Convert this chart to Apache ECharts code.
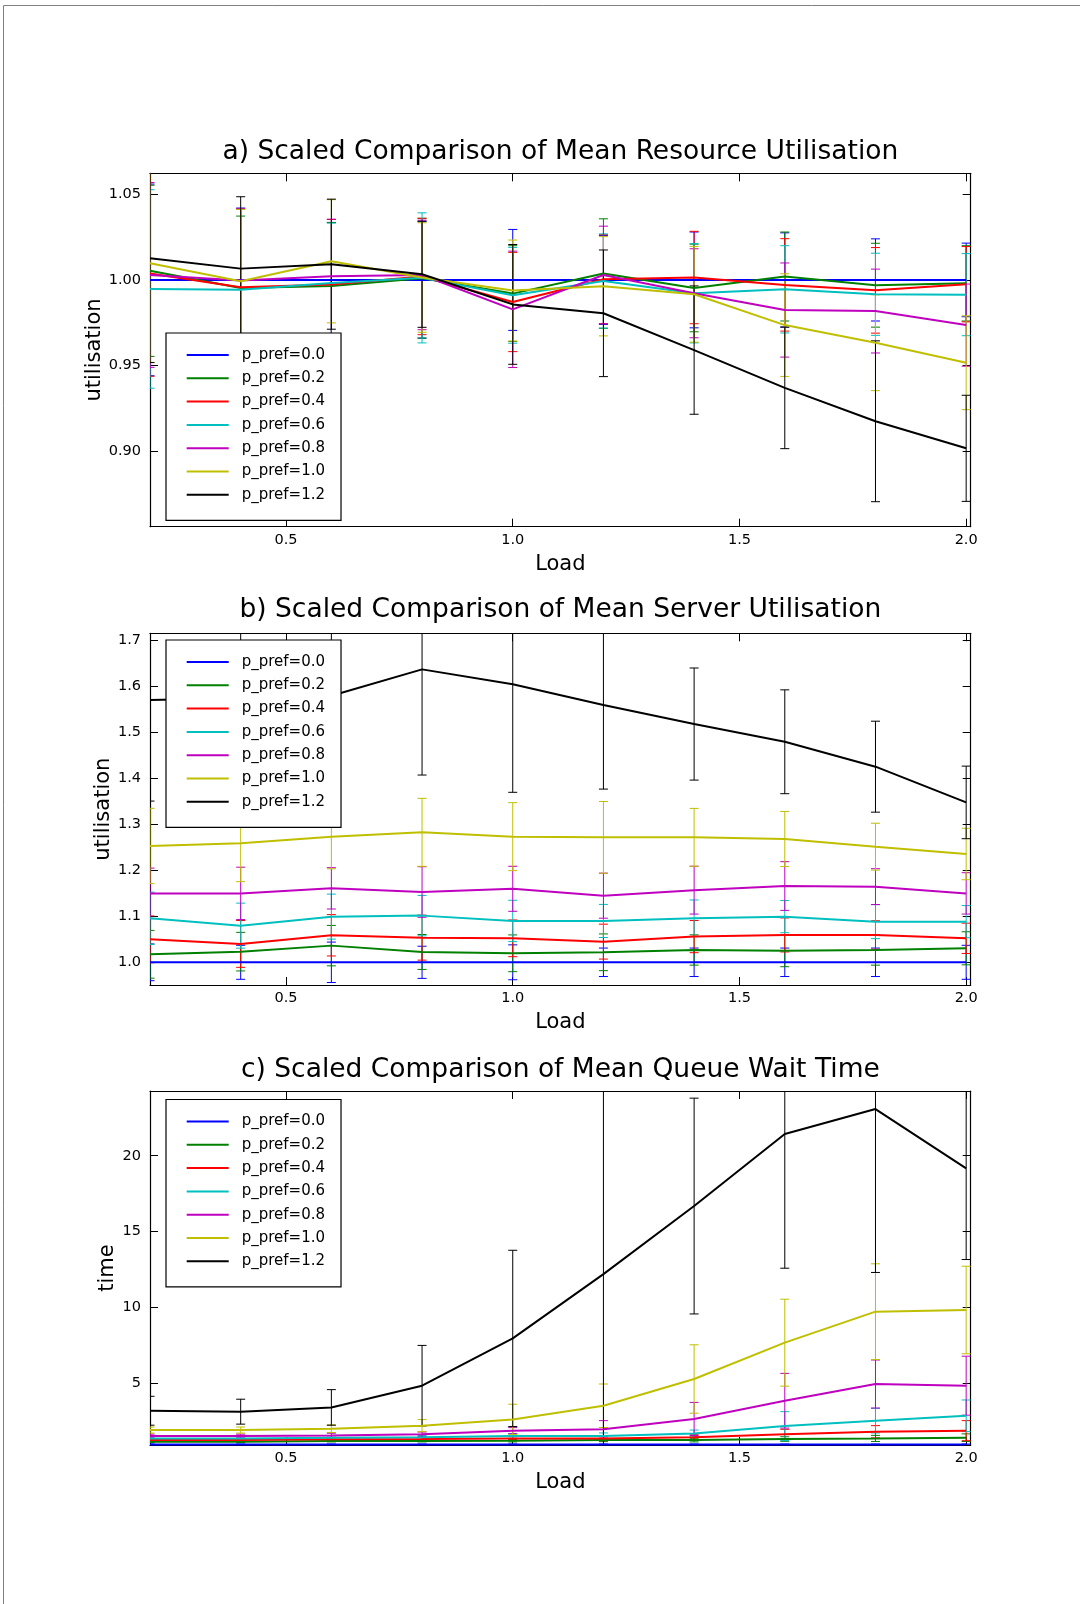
<!DOCTYPE html>
<html><head><meta charset="utf-8">
<script src="https://cdn.jsdelivr.net/npm/echarts@6/dist/echarts.min.js"></script>
<style>html,body{margin:0;padding:0;background:#fff}#c{width:1080px;height:1604px}</style>
</head><body><div id="c"></div>
<script>
// ---------------- DATA ----------------
const loads = [0.2, 0.4, 0.6, 0.8, 1.0, 1.2, 1.4, 1.6, 1.8, 2.0];
const seriesNames = ['p_pref=0.0','p_pref=0.2','p_pref=0.4','p_pref=0.6','p_pref=0.8','p_pref=1.0','p_pref=1.2'];
const loadTicks = [0.5, 1.0, 1.5, 2.0];

const resourceTitle = 'a) Scaled Comparison of Mean Resource Utilisation';
const resourceTicks = [0.90, 0.95, 1.00, 1.05];
const resourceMean = [
  [1, 1, 1, 1, 1, 1, 1, 1, 1, 1],
  [1.0053, 0.9953, 0.9965, 1.0010, 0.9920, 1.0037, 0.9953, 1.0020, 0.9969, 0.9980],
  [1.0037, 0.9957, 0.9973, 1.0020, 0.9871, 1.0004, 1.0014, 0.9971, 0.9939, 0.9975],
  [0.9947, 0.9943, 0.9982, 1.0012, 0.9910, 0.9994, 0.9922, 0.9945, 0.9916, 0.9914],
  [1.0029, 0.9996, 1.0021, 1.0029, 0.9828, 1.0029, 0.9922, 0.9824, 0.9818, 0.9736],
  [1.0098, 0.9992, 1.0109, 1.0014, 0.9938, 0.9963, 0.9916, 0.9736, 0.9633, 0.9516],
  [1.0127, 1.0066, 1.0092, 1.0033, 0.9857, 0.9805, 0.9590, 0.9369, 0.9174, 0.9016]
];
const resourceErr = [
  [0.056, 0.042, 0.0336, 0.034, 0.0295, 0.026, 0.028, 0.0275, 0.024, 0.0215],
  [0.050, 0.042, 0.037, 0.035, 0.028, 0.032, 0.0256, 0.026, 0.0245, 0.022],
  [0.060, 0.046, 0.038, 0.034, 0.029, 0.026, 0.027, 0.027, 0.025, 0.022],
  [0.058, 0.047, 0.035, 0.038, 0.028, 0.0275, 0.029, 0.0255, 0.024, 0.024],
  [0.054, 0.042, 0.0334, 0.032, 0.034, 0.0285, 0.026, 0.0275, 0.0245, 0.024],
  [0.058, 0.042, 0.036, 0.032, 0.0295, 0.029, 0.028, 0.030, 0.028, 0.0274],
  [0.061, 0.042, 0.038, 0.031, 0.035, 0.037, 0.0375, 0.0355, 0.047, 0.031]
];

const serverTitle = 'b) Scaled Comparison of Mean Server Utilisation';
const serverTicks = [1.0, 1.1, 1.2, 1.3, 1.4, 1.5, 1.6, 1.7];
const serverMean = [
  [1, 1, 1, 1, 1, 1, 1, 1, 1, 1],
  [1.0174, 1.0232, 1.0363, 1.0225, 1.0196, 1.0218, 1.0268, 1.0254, 1.0268, 1.0305],
  [1.0500, 1.0400, 1.0588, 1.0537, 1.0522, 1.0450, 1.0559, 1.0595, 1.0595, 1.0522],
  [1.0957, 1.0798, 1.0994, 1.1016, 1.0900, 1.0900, 1.0957, 1.0994, 1.0885, 1.0885],
  [1.1500, 1.1500, 1.1610, 1.1530, 1.1600, 1.1450, 1.1570, 1.1660, 1.1647, 1.1500],
  [1.2532, 1.2590, 1.2735, 1.2829, 1.2735, 1.2720, 1.2720, 1.2684, 1.2517, 1.2357],
  [1.5709, 1.5750, 1.5800, 1.6376, 1.6050, 1.5600, 1.5186, 1.4800, 1.4258, 1.3480]
];
const serverErr = [
  [0.040, 0.037, 0.044, 0.035, 0.038, 0.031, 0.031, 0.031, 0.031, 0.037],
  [0.052, 0.042, 0.044, 0.038, 0.040, 0.040, 0.033, 0.035, 0.033, 0.036],
  [0.051, 0.051, 0.045, 0.049, 0.040, 0.038, 0.035, 0.037, 0.031, 0.033],
  [0.057, 0.049, 0.049, 0.044, 0.045, 0.036, 0.040, 0.035, 0.037, 0.035],
  [0.055, 0.057, 0.045, 0.055, 0.049, 0.049, 0.052, 0.053, 0.039, 0.045],
  [0.082, 0.0835, 0.070, 0.074, 0.074, 0.078, 0.063, 0.060, 0.051, 0.056],
  [0.220, 0.200, 0.200, 0.230, 0.235, 0.183, 0.122, 0.113, 0.099, 0.079]
];

const waitTitle = 'c) Scaled Comparison of Mean Queue Wait Time';
const waitTicks = [5, 10, 15, 20];
const waitMean = [
  [1, 1, 1, 1, 1, 1, 1, 1, 1, 1],
  [1.18, 1.18, 1.23, 1.23, 1.25, 1.29, 1.29, 1.36, 1.40, 1.45],
  [1.29, 1.29, 1.34, 1.36, 1.40, 1.40, 1.47, 1.67, 1.84, 1.91],
  [1.40, 1.40, 1.45, 1.47, 1.56, 1.56, 1.73, 2.21, 2.57, 2.89],
  [1.56, 1.56, 1.60, 1.67, 1.91, 2.00, 2.68, 3.88, 4.98, 4.87],
  [1.95, 1.95, 2.04, 2.24, 2.65, 3.55, 5.31, 7.70, 9.74, 9.85],
  [3.22, 3.16, 3.44, 4.87, 7.98, 12.21, 16.69, 21.43, 23.07, 19.17]
];
const waitErr = [
  [0.03, 0.03, 0.03, 0.03, 0.03, 0.03, 0.03, 0.03, 0.03, 0.03],
  [0.05, 0.05, 0.06, 0.06, 0.08, 0.10, 0.12, 0.15, 0.20, 0.25],
  [0.08, 0.08, 0.10, 0.10, 0.12, 0.15, 0.20, 0.33, 0.40, 0.66],
  [0.10, 0.10, 0.12, 0.12, 0.15, 0.20, 0.22, 0.95, 0.81, 1.04],
  [0.12, 0.12, 0.14, 0.15, 0.20, 0.57, 1.09, 1.80, 1.58, 1.94],
  [0.20, 0.20, 0.25, 0.40, 1.00, 1.43, 2.25, 2.86, 3.15, 2.88],
  [0.95, 0.82, 1.17, 2.65, 5.80, 12.5, 7.10, 8.83, 10.75, 6.00]
];

// ---------------- STYLE / LAYOUT ----------------
const FONT = '"DejaVu Sans", "Bitstream Vera Sans", sans-serif';
const colors = ['#0000ff', '#008000', '#ff0000', '#00bfbf', '#bf00bf', '#bfbf00', '#000000'];
const GL = 150, GW = 820.7;
const panels = [
  {title: resourceTitle, ylabel: 'utilisation', mean: resourceMean, err: resourceErr, ticks: resourceTicks, dec: 2,
   ymin: 0.8558, ymax: 1.0623, top: 173.3, height: 353.4, titleY: 152.3, legendTop: 333, nameGap: 45},
  {title: serverTitle, ylabel: 'utilisation', mean: serverMean, err: serverErr, ticks: serverTicks, dec: 1,
   ymin: 0.9506, ymax: 1.7161, top: 633.3, height: 351.7, titleY: 610.5, legendTop: 640, nameGap: 36},
  {title: waitTitle, ylabel: 'time', mean: waitMean, err: waitErr, ticks: waitTicks, dec: 0,
   ymin: 0.967, ymax: 24.26, top: 1091, height: 354, titleY: 1069.7, legendTop: 1099.5, nameGap: 32}
];

function errRender(color) {
  return function (params, api) {
    const x = api.value(0);
    const lo = api.coord([x, api.value(1)]);
    const hi = api.coord([x, api.value(2)]);
    const cw = 4.5;
    const st = {stroke: color, lineWidth: 1};
    return {type: 'group', children: [
      {type: 'line', shape: {x1: lo[0], y1: lo[1], x2: hi[0], y2: hi[1]}, style: st},
      {type: 'line', shape: {x1: hi[0] - cw, y1: hi[1], x2: hi[0] + cw, y2: hi[1]}, style: st},
      {type: 'line', shape: {x1: lo[0] - cw, y1: lo[1], x2: lo[0] + cw, y2: lo[1]}, style: st}
    ]};
  };
}

const grid = [], xAxis = [], yAxis = [], series = [], legend = [];
const graphic = [{type: 'rect', silent: true, shape: {x: 3.5, y: 5.5, width: 1200, height: 1700},
  style: {fill: 'none', stroke: '#7f7f7f', lineWidth: 1}}];

const lineAx = {show: true, onZero: false, lineStyle: {color: '#000', width: 1.2}};
const tickSt = {color: '#000', width: 1};
const labelSt = {color: '#000', fontFamily: FONT, fontSize: 14.5};

panels.forEach((p, i) => {
  grid.push({left: GL, top: p.top, width: GW, height: p.height, show: false});
  xAxis.push({type: 'value', gridIndex: i, min: 0.2, max: 2.01, position: 'bottom',
    axisLine: lineAx, splitLine: {show: false},
    axisTick: {show: true, inside: true, length: 8, customValues: loadTicks, lineStyle: tickSt},
    axisLabel: Object.assign({customValues: loadTicks, margin: 6, formatter: v => v.toFixed(1)}, labelSt),
    name: 'Load', nameLocation: 'middle', nameGap: 27, nameMoveOverlap: false,
    nameTextStyle: {color: '#000', fontFamily: FONT, fontSize: 21}});
  xAxis.push({type: 'value', gridIndex: i, min: 0.2, max: 2.01, position: 'top',
    axisLine: lineAx, splitLine: {show: false},
    axisTick: {show: true, inside: true, length: 8, customValues: loadTicks, lineStyle: tickSt},
    axisLabel: {show: false}});
  yAxis.push({type: 'value', gridIndex: i, min: p.ymin, max: p.ymax, position: 'left',
    axisLine: lineAx, splitLine: {show: false},
    axisTick: {show: true, inside: true, length: 8, customValues: p.ticks, lineStyle: tickSt},
    axisLabel: Object.assign({customValues: p.ticks, margin: 9, formatter: v => p.dec ? v.toFixed(p.dec) : String(Math.round(v))}, labelSt),
    name: p.ylabel, nameLocation: 'middle', nameGap: p.nameGap, nameRotate: 90, nameMoveOverlap: false,
    nameTextStyle: {color: '#000', fontFamily: FONT, fontSize: 21}});
  yAxis.push({type: 'value', gridIndex: i, min: p.ymin, max: p.ymax, position: 'right',
    axisLine: lineAx, splitLine: {show: false},
    axisTick: {show: true, inside: true, length: 8, customValues: p.ticks, lineStyle: tickSt},
    axisLabel: {show: false}});

  seriesNames.forEach((name, j) => {
    series.push({type: 'line', name: name, xAxisIndex: 2 * i, yAxisIndex: 2 * i,
      data: loads.map((x, k) => [x, p.mean[j][k]]),
      showSymbol: false, symbol: 'none', clip: true, z: 2,
      lineStyle: {width: 2, color: colors[j]}, itemStyle: {color: colors[j]}});
    series.push({type: 'custom', name: name + ' (error)', xAxisIndex: 2 * i, yAxisIndex: 2 * i,
      data: loads.map((x, k) => [x, p.mean[j][k] - p.err[j][k], p.mean[j][k] + p.err[j][k]]),
      encode: {x: 0, y: [1, 2]}, clip: true, z: 2,
      itemStyle: {color: colors[j]}, renderItem: errRender(colors[j])});
  });

  legend.push({orient: 'vertical', left: 166, top: p.legendTop, data: seriesNames,
    icon: 'rect', itemWidth: 42, itemHeight: 2, itemGap: 5.3,
    padding: [13, 16, 16.5, 20.7], backgroundColor: '#fff', borderColor: '#000', borderWidth: 1.2,
    selectedMode: false,
    textStyle: {color: '#000', fontFamily: FONT, fontSize: 15, lineHeight: 18, padding: [0, 0, 0, 8]}});

  graphic.push({type: 'text', silent: true, x: GL + GW / 2, y: p.titleY,
    style: {text: p.title, fill: '#000', fontFamily: FONT, fontSize: 26.5, align: 'center', verticalAlign: 'middle'}});
});

const chart = echarts.init(document.getElementById('c'), null, {renderer: 'canvas'});
chart.setOption({animation: false, backgroundColor: '#fff', grid, xAxis, yAxis, series, legend, graphic});
</script></body></html>
